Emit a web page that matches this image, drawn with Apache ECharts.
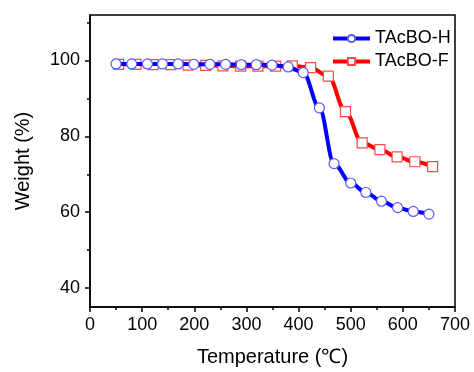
<!DOCTYPE html>
<html>
<head>
<meta charset="utf-8">
<script src="https://cdn.jsdelivr.net/npm/echarts@6/dist/echarts.min.js"></script>
<style>html,body{margin:0;padding:0;background:#fff}#c{width:474px;height:372px}</style>
</head>
<body>
<div id="c"></div>
<script>
var tempH = [50, 80, 110, 139, 169, 199, 230, 260, 290, 319, 349, 380, 409, 440, 468, 500, 529, 559, 590, 620, 650];
var weightH = [99.1, 99.1, 99.1, 99.1, 99.1, 99.0, 99.0, 99.0, 98.9, 98.9, 98.8, 98.3, 96.8, 87.5, 72.8, 67.7, 65.2, 62.9, 61.2, 60.2, 59.5];
var tempF = [55, 88, 121, 155, 188, 222, 255, 289, 322, 356, 388, 423, 457, 490, 522, 556, 589, 623, 657];
var weightF = [99.0, 99.0, 98.9, 98.9, 98.8, 98.7, 98.6, 98.5, 98.5, 98.5, 98.6, 98.1, 95.9, 86.5, 78.3, 76.5, 74.6, 73.3, 72.0];
var yMajor = [40, 60, 80, 100];
var yMinor = [50, 70, 90, 110];
var seriesNames = ['TAcBO-H', 'TAcBO-F'];

function pairs(xs, ys) { return xs.map(function (x, i) { return [x, ys[i]]; }); }

var font = 'Liberation Sans, Arial, sans-serif';
var chart = echarts.init(document.getElementById('c'), null, {renderer: 'canvas'});
chart.setOption({
  animation: false,
  backgroundColor: '#fff',
  grid: {left: 90, right: 19, top: 15, bottom: 63, show: true, borderColor: '#000', borderWidth: 1.5, backgroundColor: 'transparent'},
  legend: {
    left: 326, top: 24, orient: 'vertical', itemWidth: 37, itemHeight: 9, itemGap: 4,
    lineStyle: {width: 4},
    textStyle: {fontFamily: font, fontSize: 18, color: '#000', lineHeight: 19},
    data: seriesNames
  },
  xAxis: [{
    type: 'value', min: 0, max: 700, interval: 100,
    name: 'Temperature (℃)', nameLocation: 'middle', nameGap: 40,
    nameTextStyle: {fontFamily: font, fontSize: 20, color: '#000'},
    axisLine: {show: true, onZero: false, lineStyle: {color: '#000', width: 1.5}},
    axisTick: {show: true, inside: false, length: 5, lineStyle: {color: '#000', width: 1.5}},
    minorTick: {show: true, splitNumber: 2, length: 3, lineStyle: {color: '#000', width: 1.5}},
    axisLabel: {fontFamily: font, fontSize: 18, color: '#000', margin: 9},
    splitLine: {show: false}, minorSplitLine: {show: false}
  }],
  yAxis: [{
    type: 'value', min: 35, max: 112,
    name: 'Weight (%)', nameLocation: 'middle', nameGap: 57,
    nameTextStyle: {fontFamily: font, fontSize: 20, color: '#000'},
    axisLine: {show: true, onZero: false, lineStyle: {color: '#000', width: 1.5}},
    axisTick: {show: true, inside: false, length: 5, customValues: yMajor, lineStyle: {color: '#000', width: 1.5}},
    axisLabel: {fontFamily: font, fontSize: 18, color: '#000', margin: 10, customValues: yMajor},
    splitLine: {show: false}
  }, {
    type: 'value', min: 35, max: 112, position: 'left',
    axisLine: {show: false},
    axisTick: {show: true, inside: false, length: 3, customValues: yMinor, lineStyle: {color: '#000', width: 1.5}},
    axisLabel: {show: false, customValues: yMinor},
    splitLine: {show: false}
  }],
  series: [{
    name: seriesNames[0], type: 'line', data: pairs(tempH, weightH),
    smooth: 0.35, smoothMonotone: 'x',
    lineStyle: {color: '#0000ff', width: 4},
    itemStyle: {color: '#fff', borderColor: '#5a5aff', borderWidth: 1.2},
    symbol: 'circle', symbolSize: 10, z: 3
  }, {
    name: seriesNames[1], type: 'line', data: pairs(tempF, weightF),
    smooth: 0.35, smoothMonotone: 'x',
    lineStyle: {color: '#ff0000', width: 4},
    itemStyle: {color: '#fff', borderColor: '#ff4a4a', borderWidth: 1.2},
    symbol: 'rect', symbolSize: 10, z: 2
  }]
});
</script>
</body>
</html>
